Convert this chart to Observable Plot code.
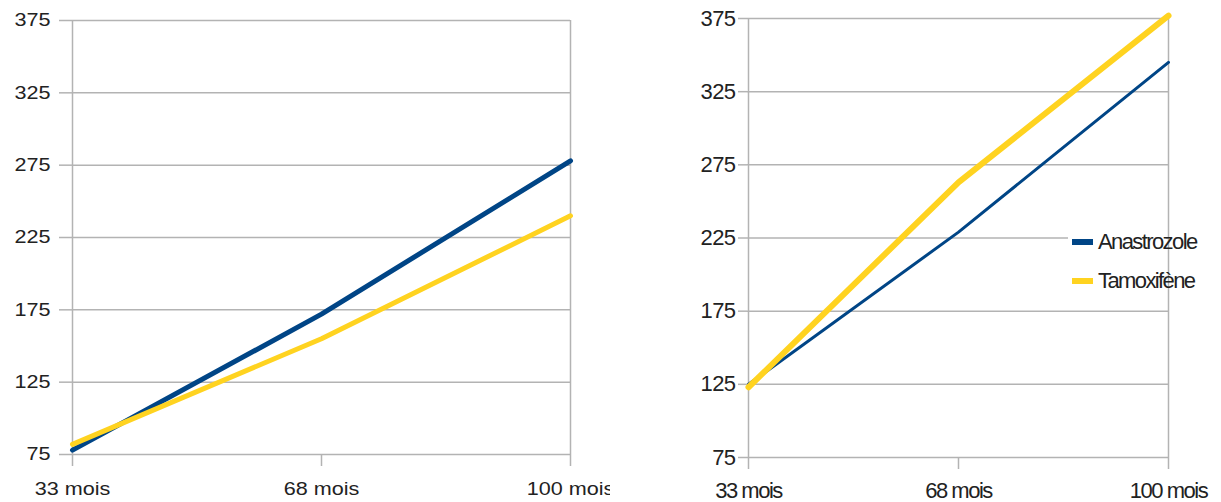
<!DOCTYPE html>
<html>
<head>
<meta charset="utf-8">
<script src="https://cdn.jsdelivr.net/npm/d3@7"></script>
<script src="https://cdn.jsdelivr.net/npm/@observablehq/plot@0.6"></script>
<style>
  html, body { margin: 0; padding: 0; background: #fff; }
  #wrap { position: relative; width: 1221px; height: 502px; display: flex; font-family: "Liberation Sans", Arial, sans-serif; }
  #wrap svg { overflow: visible; }
  #legend { position: absolute; left: 1068px; top: 222px; width: 98px; background: #fff; font-size: 22px; letter-spacing: -1.6px; color: #222; }
  #legend .row { display: flex; align-items: center; height: 39px; white-space: nowrap; }
  #legend .sw { width: 21px; height: 6px; margin-left: 4px; margin-right: 5px; flex: none; }
</style>
</head>
<body>
<div id="wrap"></div>
<script>
const months = ["33 mois", "68 mois", "100 mois"];
const yTicks = [75, 125, 175, 225, 275, 325, 375];
const series = ["Anastrozole", "Tamoxifène"];
const colors = ["#004586", "#ffd320"];
const leftAnastrozole = [78, 172, 278];
const leftTamoxifene = [82, 155, 240];
const rightAnastrozole = [125, 229, 345];
const rightTamoxifene = [123, 263, 377];

function rows(a, t) {
  const out = [];
  months.forEach((m, i) => out.push({month: m, value: a[i], serie: series[0]}));
  months.forEach((m, i) => out.push({month: m, value: t[i], serie: series[1]}));
  return out;
}

function chart(data, opt) {
  const p = Plot.plot({
    width: opt.width,
    height: 502,
    marginLeft: opt.marginLeft,
    marginRight: opt.marginRight,
    marginTop: opt.marginTop,
    marginBottom: opt.marginBottom,
    style: {fontFamily: "'Liberation Sans', Arial, sans-serif", fontSize: opt.fontSize, color: "#222", background: "#fff", letterSpacing: opt.letterSpacing, overflow: "visible"},
    x: {type: "point", domain: months, padding: 0, label: null},
    y: {domain: [75, 375], label: null},
    marks: [
      Plot.gridY(yTicks, {stroke: "#b3b3b3", strokeOpacity: 1, strokeWidth: 1.5}),
      Plot.ruleX([months[0], months[2]], {y1: 75, y2: 375, stroke: "#b3b3b3", strokeWidth: 1.5}),
      Plot.axisY(yTicks, {tickSize: opt.yTickSize, tickPadding: opt.yTickPadding, stroke: "#b3b3b3", strokeWidth: 1.5, fill: "#222", tickFormat: d => String(d), label: null}),
      Plot.axisX(months, {tickSize: 12, tickPadding: opt.xTickPadding, stroke: "#b3b3b3", strokeWidth: 1.5, fill: "#222", label: null}),
      Plot.line(data.filter(d => d.serie === series[0]), {x: "month", y: "value", stroke: colors[0], strokeWidth: opt.w0}),
      Plot.line(data.filter(d => d.serie === series[1]), {x: "month", y: "value", stroke: colors[1], strokeWidth: opt.w1})
    ]
  });
  if (opt.scaleX) {
    d3.select(p).selectAll("g[aria-label='y-axis tick label'] text, g[aria-label='x-axis tick label'] text").each(function() {
      const t = this.getAttribute("transform") || "";
      this.setAttribute("transform", t + ` scale(${opt.scaleX},1)`);
    });
  }
  if (opt.yLetterSpacing) {
    d3.select(p).selectAll("g[aria-label='y-axis tick label']").style("letter-spacing", opt.yLetterSpacing);
  }
  return p;
}

const wrap = document.getElementById("wrap");
wrap.appendChild(chart(rows(leftAnastrozole, leftTamoxifene), {
  width: 610, marginLeft: 72, marginRight: 40, marginTop: 20, marginBottom: 48,
  yTickSize: 13, yTickPadding: 9, xTickPadding: 16, w0: 5, w1: 5, scaleX: 1.2, letterSpacing: "0px", fontSize: "18px"
}));
wrap.appendChild(chart(rows(rightAnastrozole, rightTamoxifene), {
  width: 611, marginLeft: 137, marginRight: 53, marginTop: 18, marginBottom: 45,
  yTickSize: 9, yTickPadding: 3, xTickPadding: 13, w0: 3, w1: 6, scaleX: null, letterSpacing: "-1.5px", fontSize: "22px",
  yLetterSpacing: "-0.6px"
}));

const legend = document.createElement("div");
legend.id = "legend";
series.forEach((s, i) => {
  const r = document.createElement("div");
  r.className = "row";
  const sw = document.createElement("span");
  sw.className = "sw";
  sw.style.background = colors[i];
  const tx = document.createElement("span");
  tx.textContent = s;
  r.appendChild(sw); r.appendChild(tx);
  legend.appendChild(r);
});
wrap.appendChild(legend);
</script>
</body>
</html>
